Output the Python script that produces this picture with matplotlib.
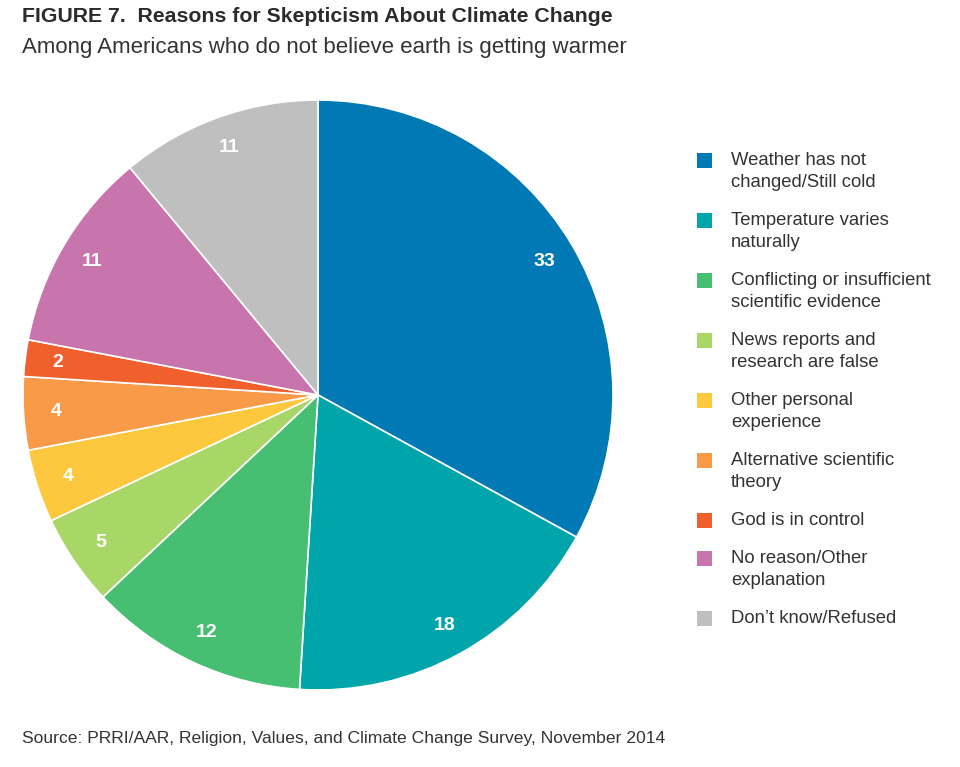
import numpy as np
import matplotlib.pyplot as plt
from matplotlib.patches import Rectangle

plt.rcParams['font.family'] = ['Liberation Sans', 'DejaVu Sans']

reasons = ['Weather has not\nchanged/Still cold',
           'Temperature varies\nnaturally',
           'Conflicting or insufficient\nscientific evidence',
           'News reports and\nresearch are false',
           'Other personal\nexperience',
           'Alternative scientific\ntheory',
           'God is in control',
           'No reason/Other\nexplanation',
           'Don\u2019t know/Refused']
shares = [33, 18, 12, 5, 4, 4, 2, 11, 11]
colors = ['#0079b5', '#00a5ac', '#46bf72', '#a8d768', '#fdc83e',
          '#f89a47', '#f0602d', '#c874ad', '#bfbfbf']

W, H = 960, 767
fig = plt.figure(figsize=(W / 100, H / 100), dpi=100)
fig.patch.set_facecolor('white')

# pie: centre (318, 395) px, radius ~295 px
cx, cy, r = 318, 395, 295
ax = fig.add_axes([(cx - r) / W, (H - cy - r) / H, 2 * r / W, 2 * r / H])
wedges, _ = ax.pie(shares, colors=colors, startangle=90, counterclock=False,
                   radius=1.0, wedgeprops=dict(edgecolor='white', linewidth=1.2))
ax.set_xlim(-1, 1)
ax.set_ylim(-1, 1)
ax.set_aspect('equal')

for w, v in zip(wedges, shares):
    mid = np.deg2rad((w.theta1 + w.theta2) / 2)
    ax.text(0.89 * np.cos(mid), 0.89 * np.sin(mid), str(v), color='white',
            fontsize=14, fontweight='bold', ha='center', va='center')

# titles
dark = '#333333'
fig.text(22 / W, 1 - 17 / H, 'FIGURE 7.  Reasons for Skepticism About Climate Change',
         fontsize=15.3, fontweight='bold', color='#2b2b2b', ha='left', va='center')
fig.text(22 / W, 1 - 47 / H, 'Among Americans who do not believe earth is getting warmer',
         fontsize=16, color=dark, ha='left', va='center')
fig.text(22 / W, 1 - 738 / H,
         'Source: PRRI/AAR, Religion, Values, and Climate Change Survey, November 2014',
         fontsize=12.6, color=dark, ha='left', va='center')

# legend drawn by hand
y = 160
for lab, c in zip(reasons, colors):
    fig.add_artist(Rectangle((697 / W, 1 - (y + 8) / H), 15 / W, 15 / H,
                             transform=fig.transFigure, facecolor=c, edgecolor='none'))
    fig.text(731 / W, 1 - (y - 8) / H, lab, fontsize=13.3, color=dark,
             ha='left', va='top', linespacing=1.36)
    y += 22 * lab.count('\n') + 38

fig.savefig('out.png', dpi=100, facecolor='white')
